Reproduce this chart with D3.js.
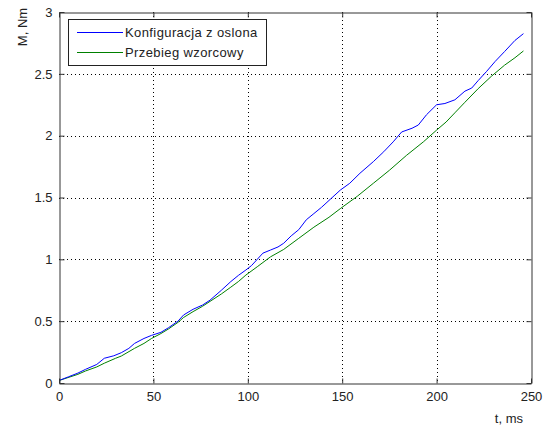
<!DOCTYPE html>
<html>
<head>
<meta charset="utf-8">
<script src="https://cdn.jsdelivr.net/npm/d3@7"></script>
<style>
  html, body { margin: 0; padding: 0; background: #fff; }
  svg { display: block; }
  text { font-family: "Liberation Sans", Arial, Helvetica, sans-serif; font-size: 13px; fill: #222; }
</style>
</head>
<body>
<svg id="chart" width="546" height="429"></svg>
<script>
const seriesNames = ["Konfiguracja z oslona", "Przebieg wzorcowy"];
const seriesColors = ["#0000ff", "#008000"];

const timeBlue = [0,5,10,14,20,24,29,33,37,40,45,49,54,58,63,66,71,76,80,86,91,95,99,102,105,108,112,116,119,123,127,131,135,139,144,149,154,159.4,166.5,172,177,181.5,187,190.3,194.7,200,204.4,209.7,215,218.6,222,226.5,231,236,241.5,246];
const valuesBlue = [0.02,0.05,0.08,0.11,0.15,0.20,0.22,0.245,0.28,0.32,0.36,0.385,0.41,0.447,0.50,0.55,0.596,0.63,0.67,0.75,0.82,0.87,0.914,0.95,1.0,1.05,1.075,1.10,1.13,1.19,1.24,1.32,1.37,1.42,1.49,1.56,1.615,1.696,1.79,1.87,1.95,2.03,2.06,2.086,2.17,2.25,2.26,2.29,2.36,2.385,2.445,2.52,2.60,2.68,2.77,2.825];

const timeGreen = [0,10,14,20,24,30,33,40,45,49,54,58,63,66,71,76,80,86,91,95,99,105,112,119,127,135,143,149,158,166.5,175,184,193,200,205,210,215,222,229,236,241.5,246];
const valuesGreen = [0.02,0.07,0.097,0.13,0.16,0.20,0.218,0.28,0.32,0.36,0.40,0.437,0.49,0.53,0.577,0.62,0.66,0.72,0.775,0.82,0.873,0.94,1.02,1.08,1.17,1.26,1.34,1.41,1.51,1.615,1.72,1.84,1.95,2.045,2.11,2.19,2.27,2.38,2.48,2.57,2.63,2.685];

const xTicks = [0, 50, 100, 150, 200, 250];
const yTicks = [0, 0.5, 1, 1.5, 2, 2.5, 3];
const xLabel = "t, ms";
const yLabel = "M, Nm";

const svg = d3.select("#chart");
const W = 546, H = 429;
const m = { left: 59, top: 12, right: 15, bottom: 46 };
const iw = W - m.left - m.right, ih = H - m.top - m.bottom;

const x = d3.scaleLinear().domain([0, 250]).range([m.left, m.left + iw]);
const y = d3.scaleLinear().domain([0, 3]).range([m.top + ih, m.top]);

const g = svg.append("g");

// grid
g.append("g").selectAll("line").data(xTicks.slice(1, -1)).join("line")
  .attr("x1", d => Math.round(x(d)) + 0.5).attr("x2", d => Math.round(x(d)) + 0.5)
  .attr("y1", m.top).attr("y2", m.top + ih)
  .attr("stroke", "#000").attr("stroke-width", 1).attr("stroke-dasharray", "1,3");
g.append("g").selectAll("line").data(yTicks.slice(1, -1)).join("line")
  .attr("y1", d => Math.round(y(d)) + 0.5).attr("y2", d => Math.round(y(d)) + 0.5)
  .attr("x1", m.left).attr("x2", m.left + iw)
  .attr("stroke", "#000").attr("stroke-width", 1).attr("stroke-dasharray", "1,3");

// lines
const line = d3.line().x(d => x(d[0])).y(d => y(d[1]));
const greenData = timeGreen.map((t, i) => [t, valuesGreen[i]]);
const blueData = timeBlue.map((t, i) => [t, valuesBlue[i]]);
g.append("path").datum(greenData).attr("d", line).attr("fill", "none")
  .attr("stroke", seriesColors[1]).attr("stroke-width", 1);
g.append("path").datum(blueData).attr("d", line).attr("fill", "none")
  .attr("stroke", seriesColors[0]).attr("stroke-width", 1);

// axes
const tickLen = 5;
const xAxisB = d3.axisBottom(x).tickValues(xTicks).tickSizeInner(-tickLen).tickSizeOuter(0).tickPadding(8).tickFormat(d3.format("d"));
const xAxisT = d3.axisTop(x).tickValues(xTicks).tickSizeInner(-tickLen).tickSizeOuter(0).tickFormat("");
const yAxisL = d3.axisLeft(y).tickValues(yTicks).tickSizeInner(-tickLen).tickSizeOuter(0).tickPadding(7).tickFormat(d => d3.format("")(d));
const yAxisR = d3.axisRight(y).tickValues(yTicks).tickSizeInner(-tickLen).tickSizeOuter(0).tickFormat("");

function styleAxis(sel) {
  sel.selectAll("path").attr("stroke", "#333");
  sel.selectAll("line").attr("stroke", "#333");
  sel.selectAll("text").attr("fill", "#222").style("font-size", "13px")
    .style("font-family", '"Liberation Sans", Arial, sans-serif');
}
g.append("g").attr("transform", `translate(0,${m.top + ih + 0.5})`).call(xAxisB).call(styleAxis);
g.append("g").attr("transform", `translate(0,${m.top + 0.5})`).call(xAxisT).call(styleAxis);
g.append("g").attr("transform", `translate(${m.left + 0.5},0)`).call(yAxisL).call(styleAxis);
g.append("g").attr("transform", `translate(${m.left + iw + 0.5},0)`).call(yAxisR).call(styleAxis);

// axis labels
svg.append("text").attr("x", 523).attr("y", 423).attr("text-anchor", "end").text(xLabel);
svg.append("text").attr("transform", `translate(27,27) rotate(-90)`).attr("text-anchor", "middle").text(yLabel);

// legend
const lg = svg.append("g");
lg.append("rect").attr("x", 68.5).attr("y", 19.5).attr("width", 198).attr("height", 46)
  .attr("fill", "#fff").attr("stroke", "#222").attr("stroke-width", 1);
seriesNames.forEach((name, i) => {
  const yy = 32 + i * 20;
  lg.append("line").attr("x1", 77).attr("x2", 123).attr("y1", yy + 0.5).attr("y2", yy + 0.5)
    .attr("stroke", seriesColors[i]).attr("stroke-width", 1);
  lg.append("text").attr("x", 125).attr("y", yy + 5).style("letter-spacing", "0.4px").text(name);
});
</script>
</body>
</html>
